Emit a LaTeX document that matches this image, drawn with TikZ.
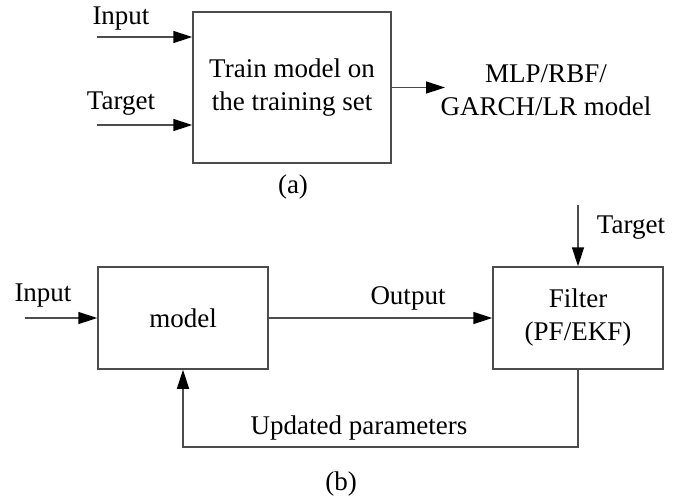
\documentclass[tikz,border=0pt]{standalone}
\usepackage{fontspec}
\setmainfont{Liberation Serif}
\usetikzlibrary{arrows.meta}
\begin{document}
\begin{tikzpicture}[x=1pt,y=-1pt,
  lc/.style={draw=black!70},
  box/.style={lc, line width=1.5pt, rectangle, inner sep=0pt, align=center},
  arr/.style={lc, line width=1.5pt, -{Triangle[length=19pt,width=12pt,fill=black,black]}},
  txt/.style={inner sep=0pt, align=center, font=\fontsize{27}{33}\selectfont},
  every node/.append style={font=\fontsize{27}{33}\selectfont}]
\useasboundingbox (0,0) rectangle (673,504);
% (a)
\node[box, minimum width=198pt, minimum height=151pt] (train) at (292,87.5) {Train model on\\the training set};
\coordinate (in1) at (97,37);
\coordinate (in2) at (97,125);
\draw[arr] (in1) -- (in1 -| train.west);
\draw[arr] (in2) -- (in2 -| train.west);
\node[txt] (linput) at (121,19) {Input};
\node[txt] (ltarget) at (121,104) {Target};
\coordinate (out1) at (445,87.5);
\draw[arr] (train.east) -- (out1);
\node[txt] (mlp) at (546,90) {MLP/RBF/\\GARCH/LR model};
\node[txt] (capa) at (293,187) {(a)};
% (b)
\node[box, minimum width=170pt, minimum height=102pt] (model) at (183,318) {model};
\node[box, minimum width=170pt, minimum height=102pt] (filter) at (578,318) {Filter\\(PF/EKF)};
\coordinate (inb) at (25,318);
\draw[arr] (inb) -- (model.west);
\node[txt] (linb) at (43,296) {Input};
\draw[arr] (model.east) -- (filter.west);
\node[txt] (lout) at (408,298) {Output};
\coordinate (tg) at (578,205);
\draw[arr] (tg) -- (filter.north);
\node[txt] (ltgb) at (631,228) {Target};
\coordinate (fb) at (578,447);
\draw[arr] (filter.south) -- (fb) -| (model.south);
\node[txt] (lupd) at (359,428) {Updated parameters};
\node[txt] (capb) at (341,484) {(b)};
\end{tikzpicture}
\end{document}
